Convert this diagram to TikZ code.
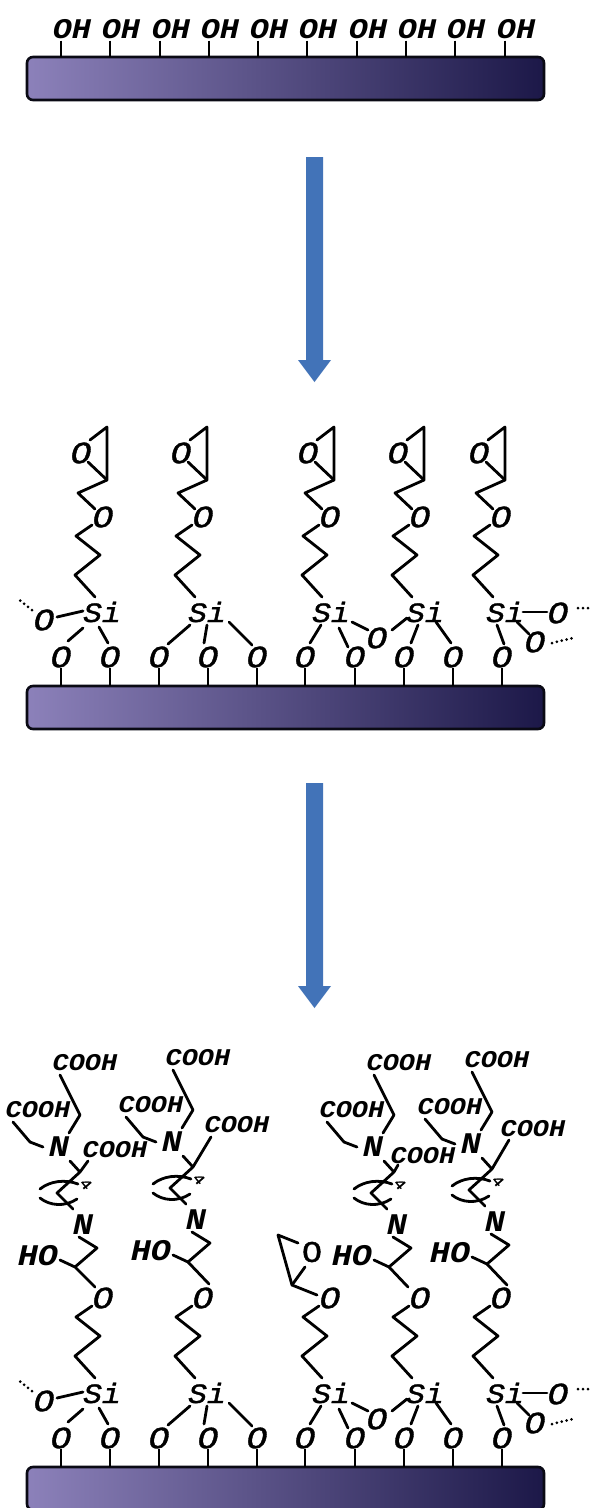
\documentclass[tikz,border=0pt]{standalone}
\usepackage{fontspec}
\newfontfamily\chemfont[FakeStretch=1.12,FakeBold=1.2]{Liberation Mono}
\newfontfamily\chemheavy[FakeStretch=1.12]{Liberation Mono}
\definecolor{barL}{HTML}{8C81BA}
\definecolor{barM}{HTML}{5549A0}
\definecolor{barR}{HTML}{1C1848}
\definecolor{arrowblue}{HTML}{4273B8}
\definecolor{linedark}{HTML}{0A0A14}
\tikzset{
  bond/.style={line width=2.8pt,line join=round,line cap=round,draw=black},
  dotbond/.style={line width=3pt,line cap=round,dash pattern=on 0pt off 5pt,draw=black},
  atom/.style={inner sep=0pt,outer sep=0pt,font=\chemfont\itshape\fontsize{31}{31}\selectfont},
  siatom/.style={inner sep=0pt,outer sep=0pt,font=\chemfont\itshape\fontsize{28}{28}\selectfont},
  hydroxy/.style={inner sep=0pt,outer sep=0pt,font=\chemheavy\bfseries\itshape\fontsize{28.5}{29}\selectfont},
  bigatom/.style={inner sep=0pt,outer sep=0pt,font=\chemheavy\bfseries\itshape\fontsize{30}{30}\selectfont},
  small/.style={inner sep=0pt,outer sep=0pt,font=\chemheavy\bfseries\itshape\fontsize{24}{24}\selectfont},
  tiny4/.style={inner sep=0pt,outer sep=0pt,rotate=-50,font=\chemfont\fontsize{15}{15}\selectfont},
  barbox/.style={draw=linedark,line width=2.6pt,rounded corners=6pt,left color=barL,middle color=barM,right color=barR,
    minimum width=517pt,minimum height=43pt,inner sep=0pt,outer sep=0pt},
  bluearrow/.style={fill=arrowblue,draw=none},
}
\newcommand{\lnk}[4]{\draw[bond] ([shift={(#2)}]#1.center) -- ([shift={(#4)}]#3.center);}
% #1 id, #2 Si x, #3 chain dx
\newcommand{\propyl}[3]{%
  \node[siatom] (si#1) at (#2,612) {Si};
  \node[atom] (t#1) at ({103+#3},517) {O};
  \coordinate (pb#1) at ({75+#3},575);
  \coordinate (pc#1) at ({100+#3},555);
  \coordinate (pd#1) at ({76+#3},536);
  \draw[bond] ([shift={({95+#3-#2},-15)}]si#1.center) -- (pb#1) -- (pc#1) -- (pd#1) -- ([shift={(-11,8)}]t#1.center);
}
\newcommand{\epoxy}[2]{%
  \node[atom] (eo#1) at ({81+#2},453) {O};
  \coordinate (eg#1) at ({78+#2},493);
  \coordinate (eh#1) at ({107+#2},480);
  \coordinate (ei#1) at ({107+#2},427);
  \draw[bond] ([shift={(-8,-8)}]t#1.center) -- (eg#1) -- (eh#1) -- (ei#1) -- ([shift={(9,-13)}]eo#1.center);
  \draw[bond] ([shift={(7,9)}]eo#1.center) -- (eh#1);
}
\newcommand{\layer}{%
  \node[barbox] (bar) at (285.5,707.5) {};
  \foreach \n/\x in {1/61,2/110,3/159,4/208,5/257,6/305,7/355,8/404,9/453,10/502}{
    \node[atom] (o\n) at (\x,657) {O};
    \draw[bond,line cap=butt] (o\n.south) -- (o\n.south |- bar.north);
  }
  \propyl{1}{102}{0}
  \propyl{2}{207}{100}
  \propyl{3}{331}{227}
  \propyl{4}{425}{317}
  \propyl{5}{505}{398}
  \node[atom] (ol) at (44,620) {O};
  \node[atom] (ob) at (377,638) {O};
  \node[atom] (or) at (558,613) {O};
  \node[atom] (orl) at (535,642) {O};
  \lnk{si1}{-19,16}{o1}{7,-16}
  \lnk{si1}{-3,15}{o2}{-2,-14}
  \lnk{si1}{-19,-1}{ol}{13,-3}
  \lnk{si2}{-17,13}{o3}{9,-13}
  \lnk{si2}{0,13}{o4}{-4,-14}
  \lnk{si2}{22,10}{o5}{-5,-12}
  \lnk{si3}{-10,13}{o6}{5,-14}
  \lnk{si3}{8,16}{o7}{-7,-10}
  \lnk{si3}{21,10}{ob}{-9,-8}
  \lnk{ob}{15,-8}{si4}{-18,6}
  \lnk{si4}{-7,13}{o8}{7,-14}
  \lnk{si4}{11,10}{o9}{-2,-14}
  \lnk{si5}{-8,13}{o10}{2,-13}
  \lnk{si5}{18,0}{or}{-11,-1}
  \lnk{si5}{12,10}{orl}{-6,-8}
  \coordinate (dl) at (17,598);
  \coordinate (dr) at (590,608);
  \coordinate (drl) at (573,638);
  \draw[dotbond] ([shift={(-12,-10)}]ol.center) -- (dl);
  \draw[dotbond] ([shift={(20,-5)}]or.center) -- (dr);
  \draw[dotbond] ([shift={(17,1)}]orl.center) -- (drl);
}
% #1 id, #2 dx, #3 dy, #4 O node, #5 offset at O, #6 acid node, #7 offset at acid
\newcommand{\amine}[7]{%
  \node[bigatom] (nl#1) at ({83+#2},{1225+#3}) {N};
  \node[bigatom] (ho#1) at ({38+#2},{1256+#3}) {HO};
  \node[bigatom] (nu#1) at ({59+#2},{1147+#3}) {N};
  \node[small] (ct#1) at ({85+#2},{1063+#3}) {COOH};
  \node[small] (cl#1) at ({38+#2},{1110+#3}) {COOH};
  \node[tiny4] (four#1) at ({86+#2},{1184+#3}) {4};
  \coordinate (j#1) at ({75+#2},{1267+#3});
  \coordinate (k#1) at ({97+#2},{1248+#3});
  \draw[bond] ([shift={(22,4)}]ho#1.center) -- (j#1) -- ([shift={(#5)}]#4.center);
  \draw[bond] (j#1) -- (k#1) -- ([shift={(-4,12)}]nl#1.center);
  \coordinate (ta#1) at ({80+#2},{1115+#3});
  \draw[bond] ([shift={(-25,12)}]ct#1.center) -- (ta#1) -- ([shift={(10,-14)}]nu#1.center);
  \coordinate (la#1) at ({30+#2},{1142+#3});
  \draw[bond] ([shift={(-25,12)}]cl#1.center) -- (la#1) -- ([shift={(-16,0)}]nu#1.center);
  \coordinate (y#1) at ({80+#2},{1172+#3});
  \coordinate (z#1) at ({57+#2},{1193+#3});
  \draw[bond] ([shift={(11,14)}]nu#1.center) -- (y#1) -- (z#1) -- ([shift={(-10,-16)}]nl#1.center);
  \draw[bond] (y#1) -- ([shift={(#7)}]#6.center);
  \draw[bond] ({40+#2},{1189+#3}) .. controls ({50+#2},{1181+#3}) and ({65+#2},{1179+#3}) .. ({78+#2},{1184+#3});
  \draw[bond] ({40+#2},{1198+#3}) .. controls ({50+#2},{1206+#3}) and ({65+#2},{1207+#3}) .. ({77+#2},{1199+#3});
}
\begin{document}
\begin{tikzpicture}[x=1pt,y=-1pt]
\useasboundingbox (0,0) rectangle (590,1508);
\fill[white] (0,0) rectangle (590,1508);
% top panel
\node[barbox] (topbar) at (285.5,78.5) {};
\foreach \n/\x in {1/61,2/110,3/160,4/209,5/258,6/307,7/357,8/406,9/455,10/505}{
  \node[hydroxy] (oh\n) at ({\x+11},29) {OH};
  \draw[bond,line cap=butt] ([xshift=-11pt,yshift=-2pt]oh\n.south) -- ([xshift=-11pt]oh\n.south |- topbar.north);
}
% arrows
\fill[bluearrow] (306,157) -- (323,157) -- (323,360) -- (331,360) -- (314.5,382) -- (298,360) -- (306,360) -- cycle;
\fill[bluearrow] (306,783) -- (323,783) -- (323,986) -- (331,986) -- (314.5,1008) -- (298,986) -- (306,986) -- cycle;
% middle panel
\begin{scope}[name prefix=M-]
  \layer
  \epoxy{1}{0}
  \epoxy{2}{100}
  \epoxy{3}{227}
  \epoxy{4}{317}
  \epoxy{5}{398}
\end{scope}
% bottom panel
\begin{scope}[shift={(0,781)},name prefix=U-]
  \layer
\end{scope}
\node[small] (cm1) at (115,1150) {COOH};
\node[small] (cr2) at (237,1125) {COOH};
\node[small] (cm3) at (423,1156) {COOH};
\node[small] (cr4) at (533,1129) {COOH};
\amine{1}{0}{0}{U-t1}{-8,-11}{cm1}{-27,11}
\amine{2}{113}{-5}{U-t2}{6,-14}{cr2}{-26,12}
\amine{3}{314}{0}{U-t4}{-12,-11}{cm3}{-25,9}
\amine{4}{412}{-3}{U-t5}{6,-13}{cr4}{-24,11}
% epoxide on the third chain
\node[inner sep=0pt,outer sep=0pt,font=\chemfont\fontsize{30}{30}\selectfont] (eox) at (312,1252) {O};
\coordinate (ep) at (292,1285);
\coordinate (eq) at (278,1235);
\draw[bond] ([shift={(-13,-3)}]U-t3.center) -- (ep) -- (eq) -- ([shift={(-14,-9)}]eox.center);
\draw[bond] ([shift={(-7,15)}]eox.center) -- (ep);
\end{tikzpicture}
\end{document}
